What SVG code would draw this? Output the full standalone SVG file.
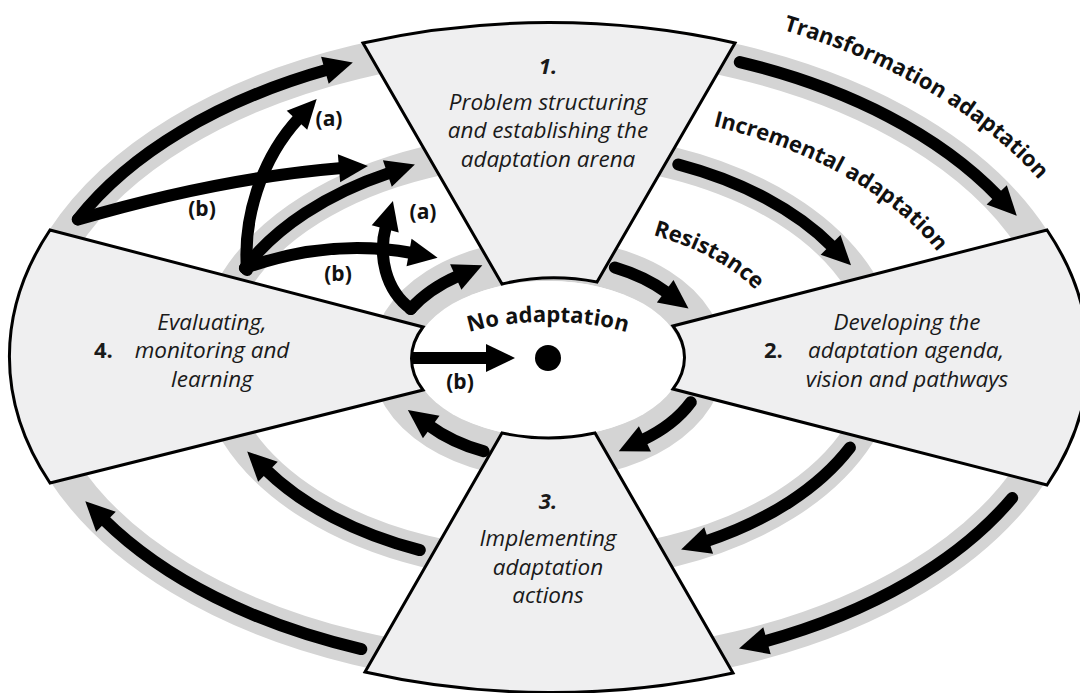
<svg xmlns="http://www.w3.org/2000/svg" width="1080" height="693" viewBox="0 0 1080 693">
<defs>
<style>
.ring{fill:none;stroke:#d4d4d4}
.seg{fill:#efeff0;stroke:#000;stroke-width:3;stroke-linejoin:miter}
.arrow{fill:none;stroke:#000;stroke-width:12;stroke-linecap:round;marker-end:url(#ah)}
.butt{stroke-linecap:butt}
.st{font-family:"Open Sans",Lato,sans-serif;font-style:italic;font-size:22.5px;fill:#1a1a1a;text-anchor:middle}
.num{font-family:"Open Sans",Lato,sans-serif;font-weight:bold;font-size:22px;fill:#1a1a1a}
.lbl{font-family:"Open Sans",Lato,sans-serif;font-weight:bold;font-size:21px;fill:#111;text-anchor:middle}
.curve{font-family:"Open Sans",Lato,sans-serif;font-weight:bold;font-size:22px;fill:#111}
</style>
<marker id="ah" markerUnits="userSpaceOnUse" markerWidth="34" markerHeight="30" refX="3" refY="14" orient="auto" overflow="visible">
<path d="M0,0 L29,14 L0,28 Z" fill="#000"/>
</marker>
<!-- baselines for the curved ring labels -->
<path id="p-transform" d="M783 30 A563 358 0 0 1 1111 355"/>
<path id="p-increment" d="M713 126 A427.7 247.6 0 0 1 975.7 355"/>
<path id="p-resist" d="M653 235 A237.4 134.4 0 0 1 785.4 355"/>
<path id="p-noadapt" d="M435 358 A113 36 0 0 1 661 358"/>
</defs>

<rect width="1080" height="693" fill="#fff"/>

<!-- grey pathway rings and the central field -->
<g id="rings">
<ellipse class="ring" cx="548" cy="355" rx="521" ry="315" stroke-width="34"/>
<ellipse class="ring" cx="548" cy="357" rx="335" ry="209" stroke-width="32"/>
<ellipse class="ring" cx="548" cy="359" rx="156" ry="99" stroke-width="42"/>
<ellipse cx="548" cy="359" rx="135" ry="78" fill="#fff"/>
</g>

<!-- stage 1 -->
<g id="stage-1">
<path class="seg" d="M363 43 A538 332 0 0 1 735 43 L597 282 A135 78 0 0 0 502 284 Z"/>
<text class="num" x="548" y="74" text-anchor="middle" font-style="italic">1.</text>
<text class="st" x="548" y="110">Problem structuring</text>
<text class="st" x="548" y="138">and establishing the</text>
<text class="st" x="548" y="167">adaptation arena</text>
</g>

<!-- stage 2 -->
<g id="stage-2">
<path class="seg" d="M1047 230 A538 332 0 0 1 1047 485 L673 389 A135 78 0 0 0 673 326 Z"/>
<text class="st" x="907" y="330">Developing the</text>
<text class="num" x="764" y="358">2.</text>
<text class="st" x="906" y="358">adaptation agenda,</text>
<text class="st" x="907" y="387">vision and pathways</text>
</g>

<!-- stage 3 -->
<g id="stage-3">
<path class="seg" d="M733 673 A538 332 0 0 1 365 672 L502 433 A135 78 0 0 0 595 433 Z"/>
<text class="num" x="548" y="509" text-anchor="middle" font-style="italic">3.</text>
<text class="st" x="548" y="546">Implementing</text>
<text class="st" x="548" y="575">adaptation</text>
<text class="st" x="548" y="603">actions</text>
</g>

<!-- stage 4 -->
<g id="stage-4">
<path class="seg" d="M50 483 A538 332 0 0 1 50 230 L423 327 A135 78 0 0 0 423 390 Z"/>
<text class="st" x="212" y="330">Evaluating,</text>
<text class="num" x="94" y="358">4.</text>
<text class="st" x="212" y="358">monitoring and</text>
<text class="st" x="212" y="387">learning</text>
</g>

<!-- centre: no adaptation -->
<g id="no-adaptation">
<circle cx="548" cy="358" r="13" fill="#000"/>
<text class="curve"><textPath href="#p-noadapt" startOffset="50%" text-anchor="middle">No adaptation</textPath></text>
</g>

<!-- pathway arrows -->
<g id="connectors">
<!-- transformation (outer ring) -->
<path class="arrow" d="M77.7 219.4 A521 315 0 0 1 327.8 69.5"/>
<path class="arrow" d="M739.8 62.1 A521 315 0 0 1 998.8 197"/>
<path class="arrow" d="M1012.2 498 A521 315 0 0 1 764.1 641.6"/>
<path class="arrow" d="M361.3 649.1 A521 315 0 0 1 103.8 519.6"/>
<!-- incremental (middle ring) -->
<path class="arrow" d="M244.9 268 A335 209 0 0 1 390.2 172.6"/>
<path class="arrow" d="M678.3 164.5 A335 209 0 0 1 832.7 246.9"/>
<path class="arrow" d="M849.9 447.6 A335 209 0 0 1 705.8 541.4"/>
<path class="arrow" d="M419.8 550.1 A335 209 0 0 1 265.8 469.6"/>
<!-- resistance (inner ring) -->
<path class="arrow" d="M410.6 309.1 A158 101 0 0 1 458.5 275.8"/>
<path class="arrow" d="M614.8 267.5 A158 101 0 0 1 667.6 293"/>
<path class="arrow" d="M690.8 402.2 A158 101 0 0 1 642.2 440.1"/>
<path class="arrow" d="M483.7 451.3 A158 101 0 0 1 428.8 425.3"/>
<!-- shifts between pathways -->
<path class="arrow" d="M78 219.5 Q220 178 342 168"/>
<path class="arrow" d="M245 268 Q330 238 412 253"/>
<path class="arrow" d="M247 270 C243 220 260 160 299 118"/>
<path class="arrow" d="M411 309 C385 290 378 255 386 226"/>
<path class="arrow butt" d="M413 358 L489 358"/>
</g>

<!-- arrow labels -->
<g id="labels">
<text class="lbl" x="329" y="126">(a)</text>
<text class="lbl" x="202" y="216">(b)</text>
<text class="lbl" x="423" y="219">(a)</text>
<text class="lbl" x="338" y="281">(b)</text>
<text class="lbl" x="460" y="389">(b)</text>
<text class="curve"><textPath href="#p-transform">Transformation adaptation</textPath></text>
<text class="curve"><textPath href="#p-increment">Incremental adaptation</textPath></text>
<text class="curve"><textPath href="#p-resist">Resistance</textPath></text>
</g>
</svg>
